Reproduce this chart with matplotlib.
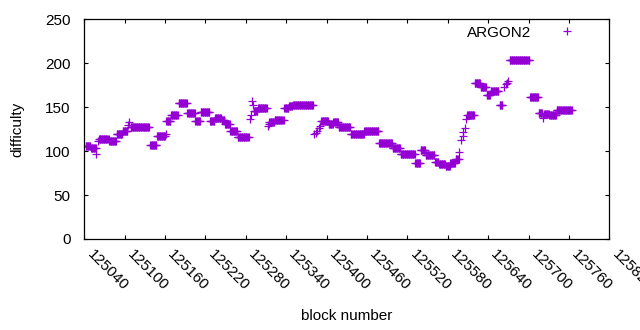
import numpy as np
import matplotlib
matplotlib.use("Agg")
import matplotlib.pyplot as plt

plt.rcParams['font.family'] = ['Liberation Sans', 'DejaVu Sans']

# runs of ARGON2 blocks: first block, last block, difficulty
run_start = [125042, 125050, 125058, 125060, 125062, 125077, 125088, 125097, 125105, 125107,
             125109, 125138, 125148, 125161, 125162, 125169, 125180, 125193, 125205, 125213,
             125227, 125234, 125244, 125249, 125257, 125268, 125286, 125287, 125289, 125290,
             125292, 125298, 125313, 125314, 125315, 125323, 125337, 125344, 125350, 125382,
             125384, 125386, 125388, 125390, 125392, 125403, 125410, 125418, 125436, 125456,
             125478, 125498, 125510, 125532, 125540, 125547, 125561, 125567, 125577, 125584,
             125592, 125597, 125600, 125602, 125603, 125605, 125607, 125609, 125620, 125629,
             125638, 125644, 125657, 125664, 125666, 125668, 125670, 125672, 125702, 125715,
             125722, 125723, 125731, 125742]
run_end = [125049, 125057, 125058, 125060, 125076, 125087, 125096, 125104, 125105, 125107,
           125136, 125147, 125160, 125161, 125168, 125179, 125192, 125204, 125212, 125226,
           125233, 125243, 125248, 125256, 125267, 125284, 125286, 125287, 125289, 125290,
           125297, 125311, 125313, 125314, 125322, 125336, 125343, 125349, 125380, 125382,
           125384, 125386, 125388, 125390, 125402, 125409, 125417, 125435, 125455, 125477,
           125497, 125509, 125531, 125539, 125546, 125560, 125566, 125576, 125583, 125591,
           125596, 125597, 125600, 125602, 125603, 125605, 125607, 125619, 125628, 125637,
           125643, 125655, 125661, 125664, 125666, 125668, 125670, 125701, 125714, 125720,
           125722, 125730, 125741, 125764]
run_diff = [106, 104, 97, 112, 114, 111, 120, 123, 130, 133,
            127, 107, 117, 120, 134, 141, 155, 143, 134, 145,
            134, 138, 135, 131, 123, 116, 137, 141, 157, 152,
            146, 149, 128, 131, 133, 135, 149, 151, 153, 119,
            121, 123, 126, 128, 134, 131, 133, 127, 119, 123,
            109, 103, 97, 86, 101, 95, 88, 85, 83, 87,
            91, 99, 113, 117, 122, 126, 137, 141, 177, 173,
            164, 168, 153, 173, 176, 178, 180, 204, 162, 143,
            138, 142, 141, 147]

xticks = list(range(125040, 125821, 60))
yticks = [0, 50, 100, 150, 200, 250]

blocks = np.concatenate([np.arange(s, e + 1) for s, e in zip(run_start, run_end)])
diffs = np.concatenate([np.full(e - s + 1, d) for s, e, d in zip(run_start, run_end, run_diff)])

fig = plt.figure(figsize=(6.4, 3.3), dpi=100)
ax = fig.add_axes([0.1317, 0.2758, 0.8203, 0.6658])

ax.plot(blocks, diffs, linestyle='none', marker='+', markersize=5.4,
        markeredgewidth=0.9, color='#9400d3', label='ARGON2')

ax.set_xlim(125040, 125820)
ax.set_ylim(0, 250)
ax.set_xticks(xticks)
ax.set_yticks(yticks)
ax.set_xticklabels([str(t) for t in xticks], rotation=-45, ha='left', va='top',
                   fontsize=11)
ax.tick_params(axis='x', direction='in', top=True, length=3, width=0.8, pad=6)
ax.tick_params(axis='y', direction='in', right=True, length=3, width=0.8, pad=10,
               labelsize=11)
for sp in ax.spines.values():
    sp.set_linewidth(0.9)

ax.set_xlabel('block number', fontsize=11)
ax.set_ylabel('difficulty', fontsize=11)
ax.xaxis.set_label_coords(0.5, -0.32)
ax.yaxis.set_label_coords(-0.115, 0.5)

ax.legend(loc='upper right', bbox_to_anchor=(0.974, 1.033), frameon=False,
          markerfirst=False, handletextpad=1.3, fontsize=11, borderpad=0.4)

plt.savefig('out.png', dpi=100)
